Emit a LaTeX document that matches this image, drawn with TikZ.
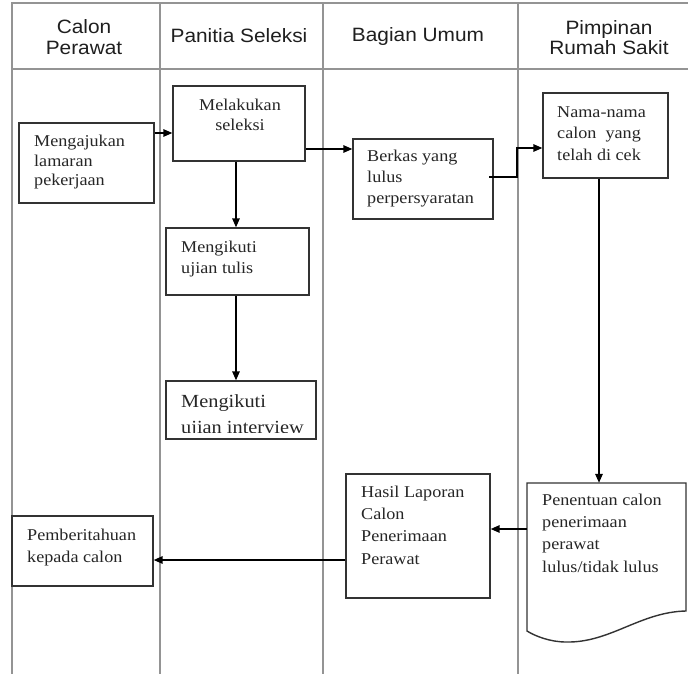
\documentclass[tikz,border=0pt]{standalone}
\usepackage{fontspec}
\setmainfont{Liberation Serif}[FakeStretch=1.1]
\newfontfamily\hdfont{Liberation Sans}[FakeStretch=1.08]
\usetikzlibrary{arrows.meta}
\begin{document}
\begin{tikzpicture}[x=1pt,y=-1pt,
  lane/.style={draw=black!42,line width=1.3pt},
  box/.style={draw=black!80,line width=1.4pt,inner sep=0pt,fill=none},
  txt/.style={anchor=north west,inner sep=0pt,align=left,text=black!85},
  hd/.style={anchor=north,inner sep=0pt,align=center,font=\hdfont\fontsize{19.3}{21}\selectfont,text=black!88},
  arr/.style={draw=black,line width=1.5pt,-{Triangle[length=9pt,width=7.5pt]}}]
\useasboundingbox[fill=white] (0,0) rectangle (688,674);
% lanes
\draw[lane] (12,674) -- (12,3) -- (688,3);
\draw[lane] (12,69) -- (688,69);
\draw[lane] (160,3) -- (160,674);
\draw[lane] (323,3) -- (323,674);
\draw[lane] (518,3) -- (518,674);
% headers
\node[hd] (h1) at (84,19.2) {Calon\\Perawat};
\node[hd] (h2) at (239,28.2) {Panitia Seleksi};
\node[hd] (h3) at (418,27.2) {Bagian Umum};
\node[hd,font=\hdfont\fontsize{19.3}{20.5}\selectfont] (h4) at (609,20.2) {Pimpinan\\Rumah Sakit};
% boxes
\node[box,minimum width=135pt,minimum height=80pt] (ajukan) at (86.5,163) {};
\node[box,minimum width=132pt,minimum height=75pt] (seleksi) at (239,123.5) {};
\node[box,minimum width=143pt,minimum height=67pt] (tulis) at (237.5,261.5) {};
\node[box,minimum width=150pt,minimum height=58pt] (intv) at (241,410) {};
\node[box,minimum width=140pt,minimum height=80pt] (berkas) at (423,179) {};
\node[box,minimum width=125pt,minimum height=85pt] (nama) at (605.5,135.5) {};
\node[box,minimum width=144pt,minimum height=124pt] (hasil) at (418,536) {};
\node[box,minimum width=141pt,minimum height=70pt] (beri) at (82.5,551) {};
% document shape
\draw[box] (527,483) -- (686,483) -- (686,611)
  .. controls (640,612) and (610,643) .. (566,642)
  .. controls (550,642) and (535,636) .. (527,631) -- cycle;
\node[inner sep=0pt,minimum width=159pt,minimum height=148pt] (tentu) at (606.5,557) {};
% texts
\node[txt,font=\fontsize{16.5}{19.7}\selectfont] (t1) at (34,134.7) {Mengajukan\\lamaran\\pekerjaan};
\node[txt,anchor=north,align=center,font=\fontsize{16.5}{20}\selectfont] (t2) at (240,98.7) {Melakukan\\seleksi};
\node[txt,font=\fontsize{16.5}{21}\selectfont] (t3) at (181,240.7) {Mengikuti\\ujian tulis};
\begin{scope}
\clip (167,382) rectangle (315,432);
\node[txt,font=\fontsize{18.5}{26}\selectfont] (t4) at (181,394.4) {Mengikuti\\ujian interview};
\end{scope}
\node[txt,font=\fontsize{16.5}{21}\selectfont] (t5) at (367,149.7) {Berkas yang\\lulus\\perpersyaratan};
\node[txt,font=\fontsize{16.5}{21.5}\selectfont] (t6) at (557,106.1) {Nama-nama\\calon\ \ yang\\telah di cek};
\node[txt,font=\fontsize{16.5}{22.3}\selectfont] (t7) at (542,493.7) {Penentuan calon\\penerimaan\\perawat\\lulus/tidak lulus};
\node[txt,font=\fontsize{16.5}{22.3}\selectfont] (t8) at (361,485.7) {Hasil Laporan\\Calon\\Penerimaan\\Perawat};
\node[txt,font=\fontsize{16.5}{22}\selectfont] (t9) at (27,528.7) {Pemberitahuan\\kepada calon};
% connector helper coordinates
\coordinate (ya) at (0,133);
\coordinate (yb) at (0,149);
\coordinate (xc) at (236,0);
\coordinate (yd) at (0,177);
\coordinate (ye) at (0,148);
\coordinate (xe) at (517,0);
\coordinate (xs) at (489,0);
\coordinate (xf) at (599,0);
\coordinate (yg) at (0,529);
\coordinate (yh) at (0,560);
% connectors
\draw[arr] (ajukan.east |- ya) -- (seleksi.west |- ya);
\draw[arr] (seleksi.east |- yb) -- (berkas.west |- yb);
\draw[arr] (seleksi.south -| xc) -- (tulis.north -| xc);
\draw[arr] (tulis.south -| xc) -- (intv.north -| xc);
\draw[arr] (xs |- yd) -- (xe |- yd) -- (xe |- ye) -- (nama.west |- ye);
\draw[arr] (nama.south -| xf) -- (tentu.north -| xf);
\draw[arr] (tentu.west |- yg) -- (hasil.east |- yg);
\draw[arr] (hasil.west |- yh) -- (beri.east |- yh);
\end{tikzpicture}
\end{document}
